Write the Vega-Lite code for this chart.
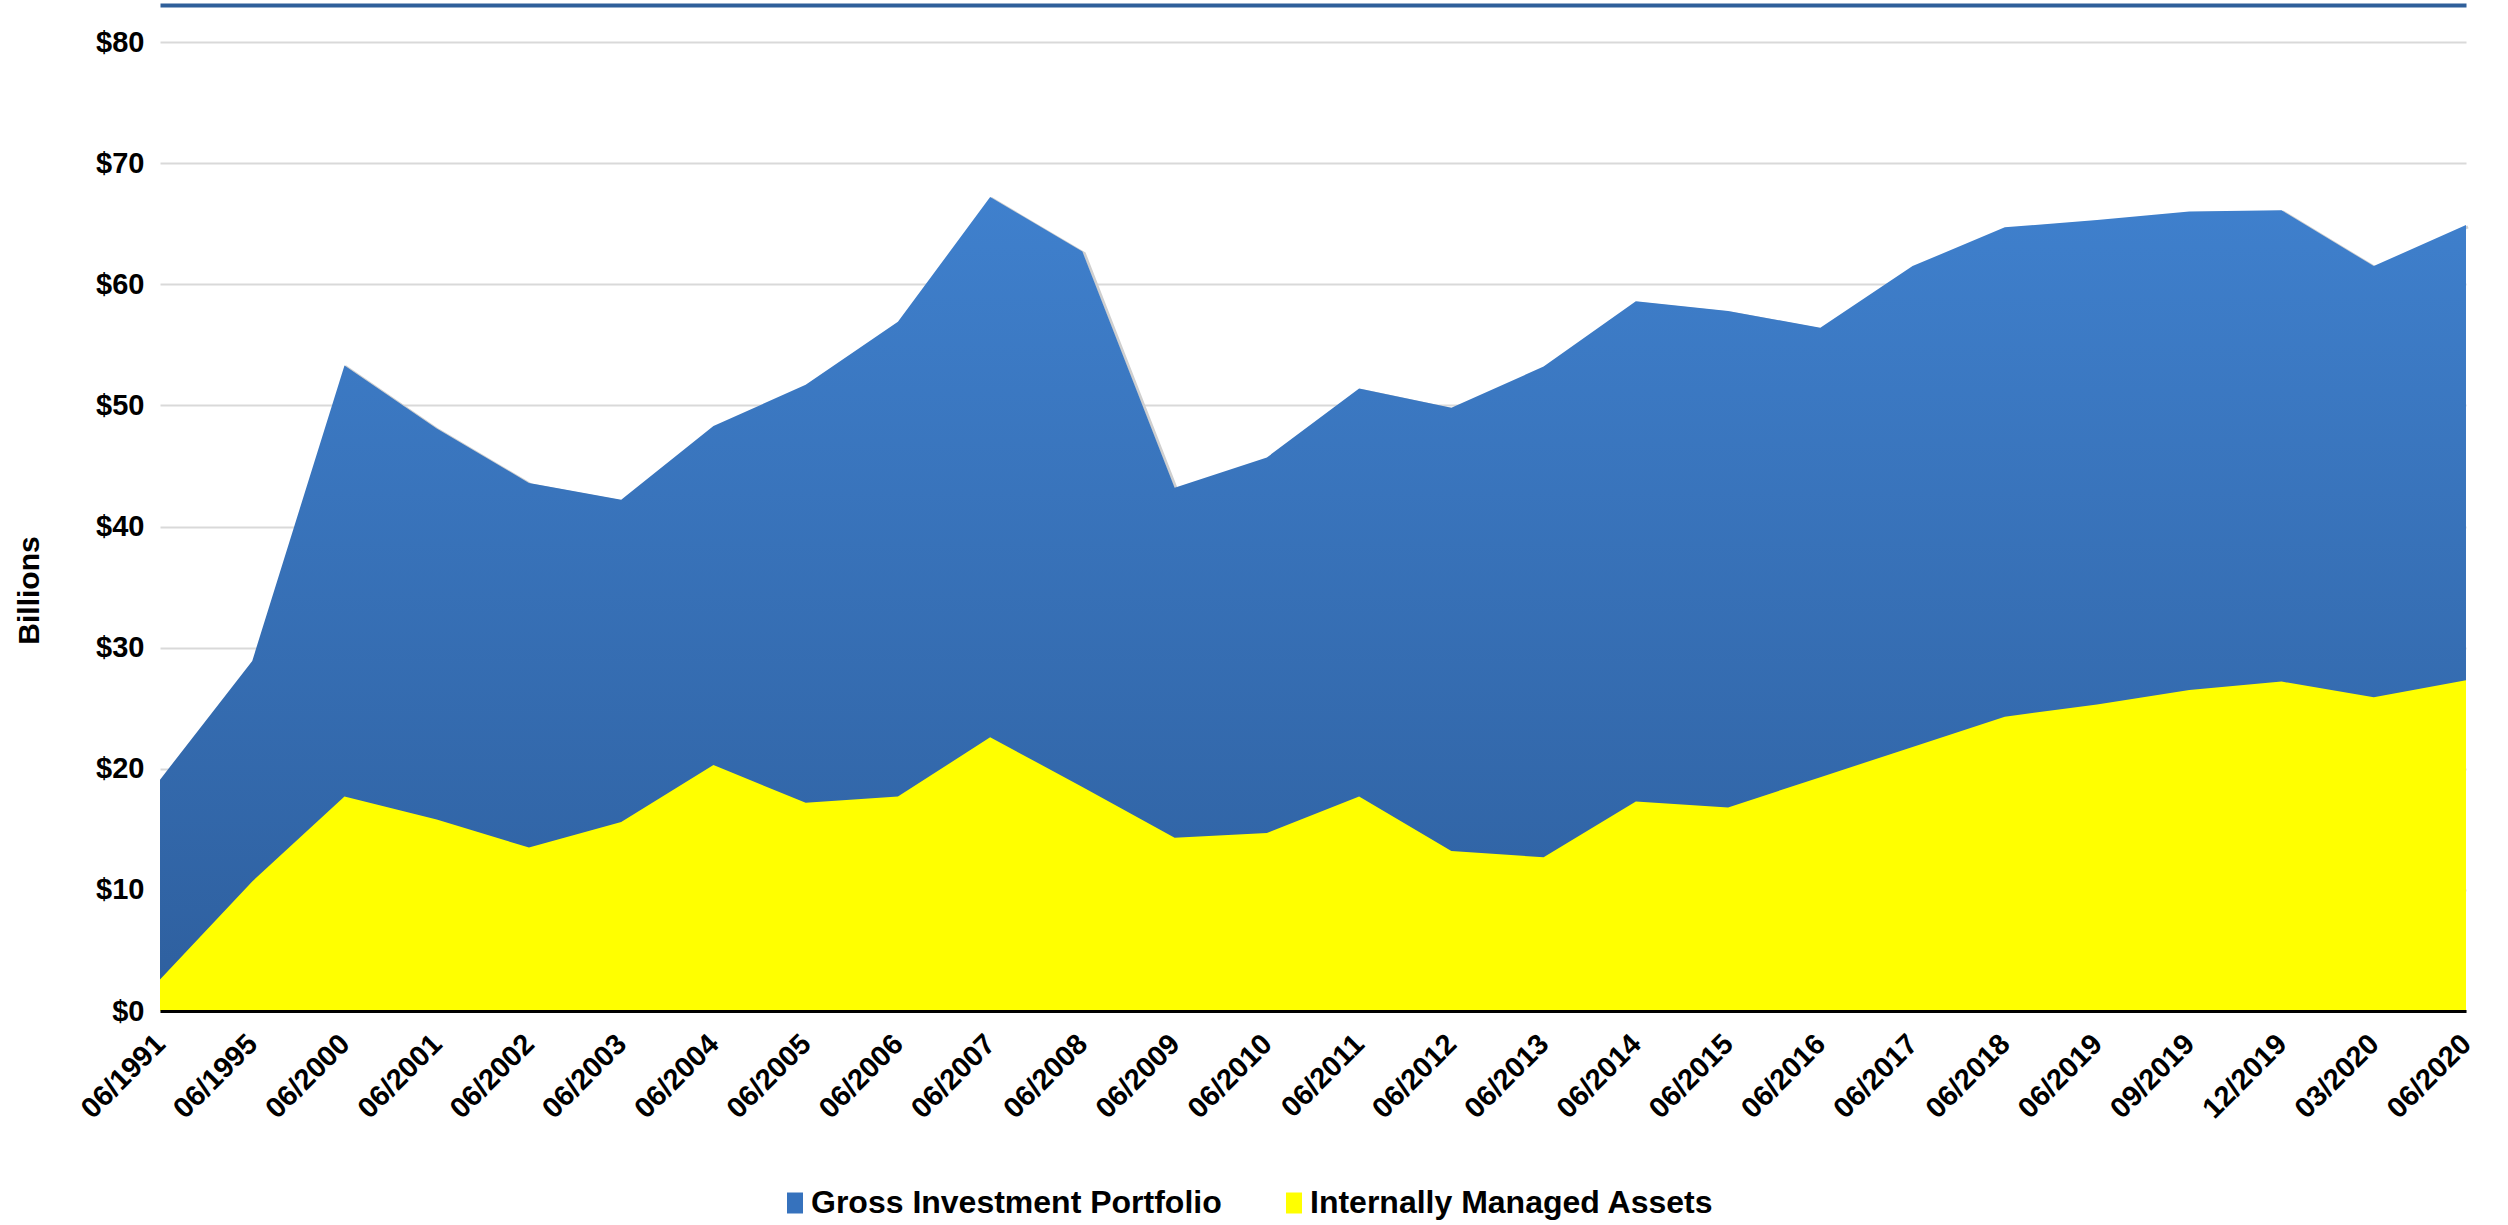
{
  "$schema": "https://vega.github.io/schema/vega-lite/v6.json",
  "width": 2306,
  "height": 969,
  "autosize": {"type": "none"},
  "padding": {"left": 160, "top": 42, "right": 42, "bottom": 214},
  "background": "white",
  "config": {"view": {"stroke": null}, "font": "Liberation Sans"},
  "data": {
    "values": [
      {"date": "06/1991", "gross": 19.1, "internal": 2.6},
      {"date": "06/1995", "gross": 28.9, "internal": 10.7},
      {"date": "06/2000", "gross": 53.3, "internal": 17.7},
      {"date": "06/2001", "gross": 48.1, "internal": 15.8},
      {"date": "06/2002", "gross": 43.6, "internal": 13.5},
      {"date": "06/2003", "gross": 42.2, "internal": 15.6},
      {"date": "06/2004", "gross": 48.3, "internal": 20.3},
      {"date": "06/2005", "gross": 51.7, "internal": 17.2},
      {"date": "06/2006", "gross": 56.9, "internal": 17.7},
      {"date": "06/2007", "gross": 67.2, "internal": 22.6},
      {"date": "06/2008", "gross": 62.7, "internal": 18.5},
      {"date": "06/2009", "gross": 43.2, "internal": 14.3},
      {"date": "06/2010", "gross": 45.7, "internal": 14.7},
      {"date": "06/2011", "gross": 51.4, "internal": 17.7},
      {"date": "06/2012", "gross": 49.8, "internal": 13.2},
      {"date": "06/2013", "gross": 53.2, "internal": 12.7},
      {"date": "06/2014", "gross": 58.6, "internal": 17.3},
      {"date": "06/2015", "gross": 57.8, "internal": 16.8},
      {"date": "06/2016", "gross": 56.4, "internal": 19.3},
      {"date": "06/2017", "gross": 61.5, "internal": 21.8},
      {"date": "06/2018", "gross": 64.7, "internal": 24.3},
      {"date": "06/2019", "gross": 65.3, "internal": 25.3},
      {"date": "09/2019", "gross": 66.0, "internal": 26.5},
      {"date": "12/2019", "gross": 66.1, "internal": 27.2},
      {"date": "03/2020", "gross": 61.5, "internal": 25.9},
      {"date": "06/2020", "gross": 64.9, "internal": 27.3}
    ]
  },
  "resolve": {"axis": {"x": "independent"}},
  "layer": [
    {
      "mark": {"type": "line", "stroke": "#cfcfcf", "strokeWidth": 3, "xOffset": 2, "yOffset": 2},
      "encoding": {
        "x": {
          "field": "date", "type": "ordinal", "sort": null,
          "scale": {"type": "point", "padding": 0},
          "axis": {
            "title": null, "labelAngle": -45, "labelAlign": "right", "labelBaseline": "middle",
            "labelFont": "Liberation Sans", "labelFontWeight": "bold", "labelFontSize": 29,
            "labelColor": "black", "labelPadding": 28, "ticks": false, "grid": false,
            "domainColor": "black", "domainWidth": 3, "zindex": 1
          }
        },
        "y": {
          "field": "gross", "type": "quantitative",
          "scale": {"domain": [0, 80]},
          "axis": {
            "title": "Billions", "titleFont": "Liberation Sans", "titleFontSize": 30, "titleFontWeight": "bold",
            "titleColor": "black", "titleX": -131, "titleY": 548, "titleAngle": 270,
            "titleAlign": "center", "titleBaseline": "middle",
            "values": [0, 10, 20, 30, 40, 50, 60, 70, 80], "format": "$.0f",
            "labelFont": "Liberation Sans", "labelFontSize": 29, "labelFontWeight": "bold", "labelColor": "black",
            "labelPadding": 16, "ticks": false, "domain": false,
            "gridColor": "#d9d9d9", "gridWidth": 2
          }
        }
      }
    },
    {
      "mark": {
        "type": "area",
        "fill": {"gradient": "linear", "x1": 0, "y1": 0, "x2": 0, "y2": 1,
                 "stops": [{"offset": 0, "color": "#3f80cd"}, {"offset": 1, "color": "#2e5f9e"}]}
      },
      "encoding": {
        "x": {"field": "date", "type": "ordinal", "sort": null, "axis": null},
        "y": {"field": "gross", "type": "quantitative"},
        "color": {
          "datum": "Gross Investment Portfolio", "type": "nominal",
          "scale": {
            "domain": ["Gross Investment Portfolio", "Internally Managed Assets"],
            "range": ["#3672bd", "#ffff00"]
          },
          "legend": {
            "orient": "none", "legendX": 619, "legendY": 1145, "direction": "horizontal", "title": null,
            "labelFont": "Liberation Sans", "labelFontSize": 32, "labelFontWeight": "bold", "labelColor": "black",
            "labelLimit": 0,
            "symbolType": "M-0.76,-1L0.76,-1L0.76,1L-0.76,1Z", "symbolSize": 441,
            "symbolStrokeWidth": 0, "labelOffset": 0, "columnPadding": 56
          }
        }
      }
    },
    {
      "mark": {"type": "area"},
      "encoding": {
        "x": {
          "field": "date", "type": "ordinal", "sort": null,
          "axis": {
            "orient": "top", "title": null, "labels": false, "ticks": false, "grid": false,
            "domainColor": "#2f5f9a", "domainWidth": 4, "offset": 37
          }
        },
        "y": {"field": "internal", "type": "quantitative"},
        "color": {"datum": "Internally Managed Assets", "type": "nominal"}
      }
    }
  ]
}
